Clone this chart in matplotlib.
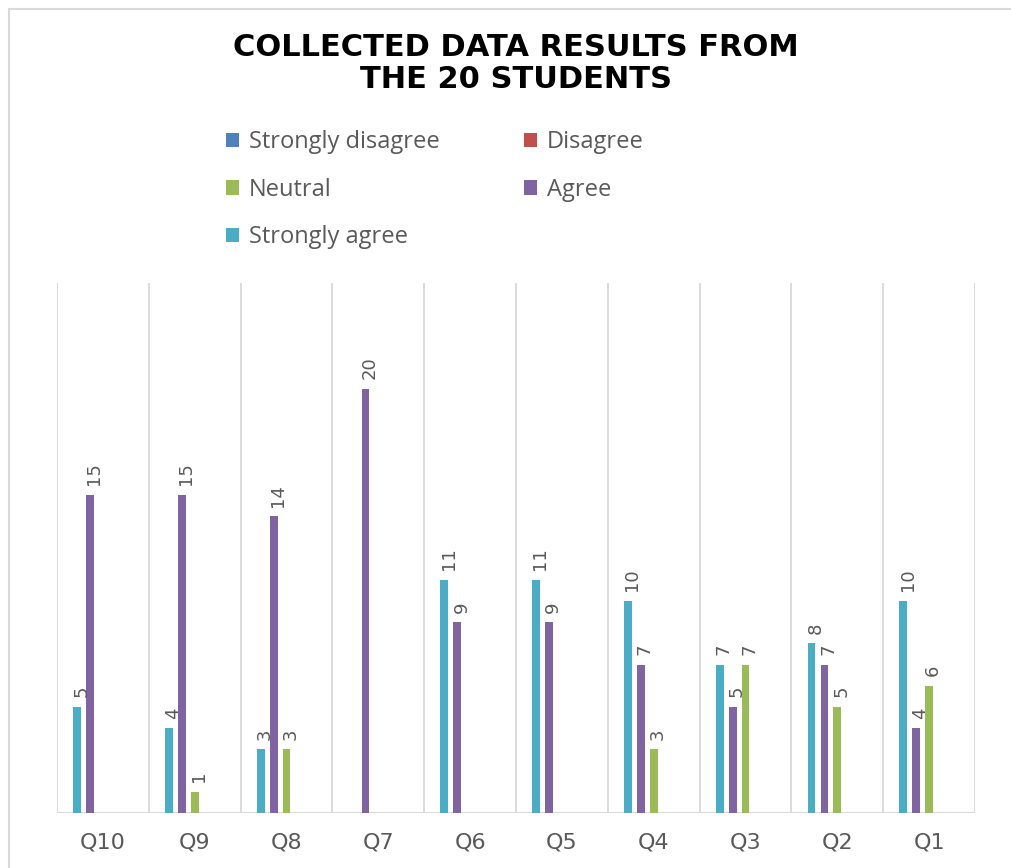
import numpy as np
import matplotlib.pyplot as plt
from matplotlib.patches import Patch
from matplotlib.lines import Line2D

questions = ['Q10', 'Q9', 'Q8', 'Q7', 'Q6', 'Q5', 'Q4', 'Q3', 'Q2', 'Q1']
strongly_disagree = [0, 0, 0, 0, 0, 0, 0, 0, 0, 0]
disagree = [0, 0, 0, 0, 0, 0, 0, 0, 0, 0]
neutral = [0, 1, 3, 0, 0, 0, 3, 7, 5, 6]
agree = [15, 15, 14, 20, 9, 9, 7, 5, 7, 4]
strongly_agree = [5, 4, 3, 0, 11, 11, 10, 7, 8, 10]

series = [
    ('Strongly disagree', strongly_disagree, '#4F81BD'),
    ('Disagree', disagree, '#C0504D'),
    ('Neutral', neutral, '#9BBB59'),
    ('Agree', agree, '#8064A2'),
    ('Strongly agree', strongly_agree, '#4BACC6'),
]

text_gray = '#595959'
grid_gray = '#D9D9D9'

fig = plt.figure(figsize=(10.11, 8.68), dpi=100)
ax = fig.add_axes([57 / 1011, 1 - 813 / 868, 918 / 1011, 530 / 868])

x = np.arange(len(questions))
# bars are drawn in reverse series order: strongly agree on the left
offsets = [0.28, 0.14, 0.0, -0.14, -0.28]
width = 0.085
for (name, vals, col), off in zip(series, offsets):
    ax.bar(x + off, vals, width=width, color=col, zorder=3)
    for xi, v in zip(x, vals):
        if v > 0:
            ax.text(xi + off + 0.045, v + 0.45, str(v), rotation=90,
                    ha='center', va='bottom', color=text_gray, fontsize=13,
                    family=['Liberation Sans Narrow', 'DejaVu Sans'])

for b in np.arange(-0.5, len(questions), 1.0):
    ax.axvline(b, color=grid_gray, lw=1.3, zorder=1)
ax.axhline(0, color=grid_gray, lw=1.5, zorder=2)

ax.set_xlim(-0.5, len(questions) - 0.5)
ax.set_ylim(0, 25)
ax.set_yticks([])
ax.set_xticks(x)
ax.set_xticklabels(questions, fontsize=16, color=text_gray, family='DejaVu Sans')
ax.tick_params(axis='x', length=0, pad=14)
for s in ax.spines.values():
    s.set_visible(False)

fig.text(0.51, 1 - 47 / 868, 'COLLECTED DATA RESULTS FROM', ha='center', va='center',
         fontsize=22, fontweight='bold', family='DejaVu Sans', color='black')
fig.text(0.51, 1 - 80 / 868, 'THE 20 STUDENTS', ha='center', va='center',
         fontsize=22, fontweight='bold', family='DejaVu Sans', color='black')

# legend: filled column-wise to give rows SD|D, N|A, SA
order = [0, 2, 4, 1, 3]
handles = [Patch(facecolor=series[i][2], edgecolor='none') for i in order]
labels = [series[i][0] for i in order]
fig.legend(handles, labels, ncol=2, loc='upper left',
           bbox_to_anchor=(205 / 1011, 1 - 109 / 868), frameon=False,
           prop={'family': 'Open Sans', 'size': 17}, labelcolor=text_gray,
           handlelength=0.55, handleheight=0.55, handletextpad=0.4,
           columnspacing=3.6, labelspacing=1.0)

# outer frame (top and left visible)
fig.add_artist(Line2D([9 / 1011, 9 / 1011], [0, 1 - 9 / 868], color=grid_gray, lw=1.5))
fig.add_artist(Line2D([9 / 1011, 1], [1 - 9 / 868, 1 - 9 / 868], color=grid_gray, lw=1.5))

fig.savefig('out.png', dpi=100)
